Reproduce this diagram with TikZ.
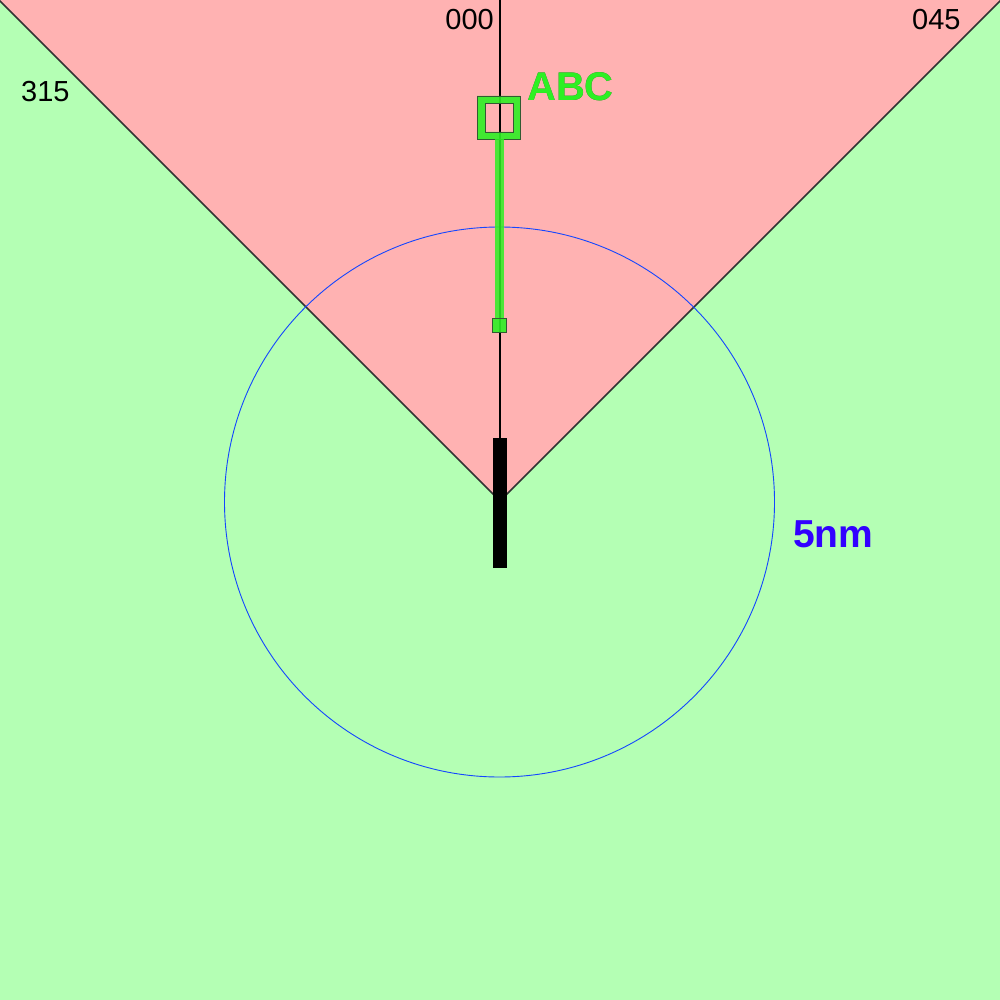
\documentclass[tikz,border=0pt]{standalone}
\usepackage{fontspec}
\setmainfont{Liberation Sans}
\usepackage[outline]{contour}
\contourlength{1.1pt}
\definecolor{bggreen}{RGB}{180,255,180}
\definecolor{wedgepink}{RGB}{255,178,178}
\definecolor{acgreen}{RGB}{45,240,35}
\definecolor{acdark}{RGB}{50,90,50}
\definecolor{ringblue}{RGB}{20,70,255}
\definecolor{labblue}{RGB}{50,0,255}
\begin{document}
\begin{tikzpicture}[x=1pt,y=-1pt,
  hdg/.style={inner sep=0pt,font=\fontsize{29}{29}\selectfont},
  acpart/.style={fill=acgreen,fill opacity=0.9,draw=acdark,line width=0.8pt},
  edge/.style={draw=black!80,line width=1.6pt}]
\useasboundingbox (0,0) rectangle (1000,1000);
\fill[bggreen] (0,0) rectangle (1000,1000);
\coordinate (apex) at (500,501);
\coordinate (tl) at (-1,0);
\coordinate (tr) at (1001,0);
\fill[wedgepink] (tl) -- (apex) -- (tr) -- cycle;
\draw[edge] (tl) -- (apex) -- (tr);
% range ring
\node[draw=ringblue,line width=0.9pt,circle,minimum size=550pt,inner sep=0pt] (ring) at (499.5,502) {};
% centre line
\coordinate (ctop) at (500,0);
\coordinate (cbot) at (500,438);
\draw[black,line width=2pt] (ctop) -- (cbot);
% runway
\fill[black] (493,438) rectangle (507,568);
% aircraft
\path[acpart,even odd rule] (477,96) rectangle (520,139) (485,103) rectangle (513,132);
\fill[acgreen,opacity=0.85] (495,139.4) rectangle (504,318);
\draw[acpart] (492.5,318) rectangle (506.5,332);
% labels
\node[hdg,anchor=base east] (h000) at (494,30) {000};
\node[hdg,anchor=base west] (h045) at (912,30) {045};
\node[hdg,anchor=base west] (h315) at (21,102) {315};
\node[inner sep=0pt,anchor=base west,font=\fontsize{39}{39}\selectfont\bfseries,text=labblue] (rng) at (793,547) {5nm};
\node[inner sep=0pt,anchor=base west,font=\fontsize{40}{40}\selectfont\bfseries] (abc) at (527,101) {\contour{acdark}{\textcolor{acgreen}{ABC}}};
\end{tikzpicture}
\end{document}
